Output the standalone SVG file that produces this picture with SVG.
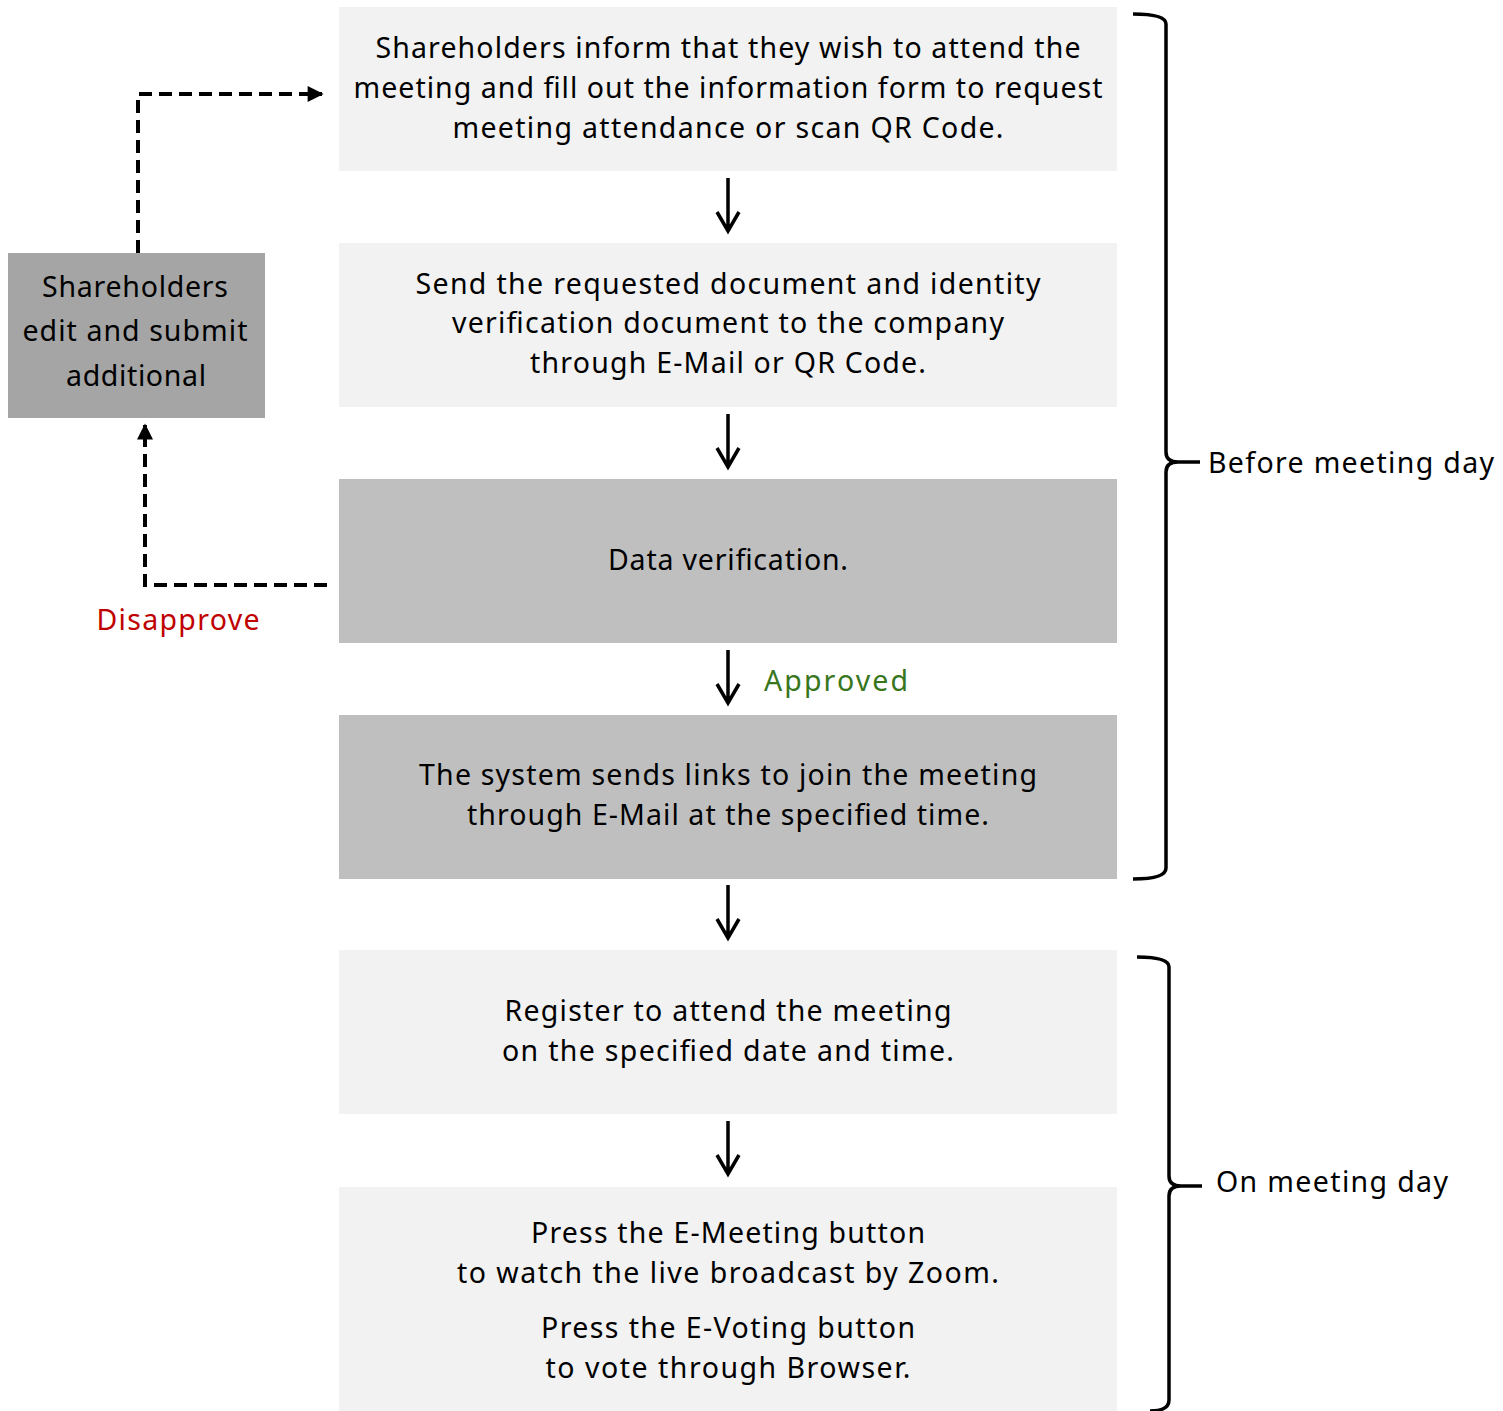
<svg xmlns="http://www.w3.org/2000/svg" width="1503" height="1411" viewBox="0 0 1503 1411">
<style>
text{font-family:"Noto Sans","Liberation Sans",sans-serif;font-size:28.5px;fill:#000;text-anchor:middle}
.light{fill:#f2f2f2}
.mid{fill:#bfbfbf}
.dark{fill:#a5a5a5}
.arr{stroke:#000;stroke-width:3.5;fill:none}
.dash{stroke:#000;stroke-width:4;fill:none;stroke-dasharray:13 7}
.brace{stroke:#000;stroke-width:3.5;fill:none}
</style>
<defs>
<marker id="tri" viewBox="0 0 10 10" refX="9" refY="5" markerWidth="4.5" markerHeight="4" orient="auto" markerUnits="strokeWidth">
<path d="M0,0 L10,5 L0,10 z" fill="#000"/>
</marker>
</defs>
<rect width="1503" height="1411" fill="#fff"/>
<g id="n1"><rect class="light" x="339" y="7" width="778" height="164"/>
<text x="728" y="58" textLength="705" lengthAdjust="spacing">Shareholders inform that they wish to attend the</text>
<text x="728" y="98" textLength="749" lengthAdjust="spacing">meeting and fill out the information form to request</text>
<text x="728" y="138" textLength="551" lengthAdjust="spacing">meeting attendance or scan QR Code.</text></g>
<g id="n2"><rect class="light" x="339" y="243" width="778" height="164"/>
<text x="728" y="294" textLength="625" lengthAdjust="spacing">Send the requested document and identity</text>
<text x="728" y="333" textLength="552" lengthAdjust="spacing">verification document to the company</text>
<text x="728" y="373" textLength="396" lengthAdjust="spacing">through E-Mail or QR Code.</text></g>
<g id="n3"><rect class="mid" x="339" y="479" width="778" height="164"/>
<text x="728" y="570" textLength="240" lengthAdjust="spacing">Data verification.</text></g>
<g id="n4"><rect class="mid" x="339" y="715" width="778" height="164"/>
<text x="728" y="785" textLength="618" lengthAdjust="spacing">The system sends links to join the meeting</text>
<text x="728" y="825" textLength="522" lengthAdjust="spacing">through E-Mail at the specified time.</text></g>
<g id="n5"><rect class="light" x="339" y="950" width="778" height="164"/>
<text x="728" y="1021" textLength="447" lengthAdjust="spacing">Register to attend the meeting</text>
<text x="728" y="1061" textLength="452" lengthAdjust="spacing">on the specified date and time.</text></g>
<g id="n6"><rect class="light" x="339" y="1187" width="778" height="230"/>
<text x="728" y="1243" textLength="394" lengthAdjust="spacing">Press the E-Meeting button</text>
<text x="728" y="1283" textLength="542" lengthAdjust="spacing">to watch the live broadcast by Zoom.</text>
<text x="728" y="1338" textLength="374" lengthAdjust="spacing">Press the E-Voting button</text>
<text x="728" y="1378" textLength="365" lengthAdjust="spacing">to vote through Browser.</text></g>
<g id="n7"><rect class="dark" x="8" y="253" width="257" height="165"/>
<text x="135" y="297" textLength="186" lengthAdjust="spacing">Shareholders</text>
<text x="135" y="341" textLength="225" lengthAdjust="spacing">edit and submit</text>
<text x="136" y="386" textLength="140" lengthAdjust="spacing">additional</text></g>
<g id="connectors">
<path class="arr" d="M728,178 V231 M717,212 L728,231 L739,212"/>
<path class="arr" d="M728,414 V467 M717,448 L728,467 L739,448"/>
<path class="arr" d="M728,650 V703 M717,684 L728,703 L739,684"/>
<path class="arr" d="M728,885 V938 M717,919 L728,938 L739,919"/>
<path class="arr" d="M728,1121 V1174 M717,1155 L728,1174 L739,1155"/>
<path class="dash" d="M138,253 V94 H322" marker-end="url(#tri)"/>
<path class="dash" d="M327,585 H145 V425" marker-end="url(#tri)"/>
<text x="178" y="630" style="fill:#c00000" textLength="163" lengthAdjust="spacing">Disapprove</text>
<text x="836" y="691" style="fill:#38761d" textLength="144" lengthAdjust="spacing">Approved</text>
</g>
<g id="braces">
<path class="brace" d="M1133,14 Q1166,14 1166,24 V452 Q1166,462 1178,462 H1200 M1178,462 Q1166,462 1166,472 V868 Q1166,879 1133,879"/>
<text x="1351" y="473" textLength="286" lengthAdjust="spacing">Before meeting day</text>
<path class="brace" d="M1137,957 Q1169,957 1169,967 V1176 Q1169,1186 1181,1186 H1202 M1181,1186 Q1169,1186 1169,1196 V1400 Q1169,1411 1150,1411"/>
<text x="1332" y="1192" textLength="232" lengthAdjust="spacing">On meeting day</text>
</g>
</svg>
